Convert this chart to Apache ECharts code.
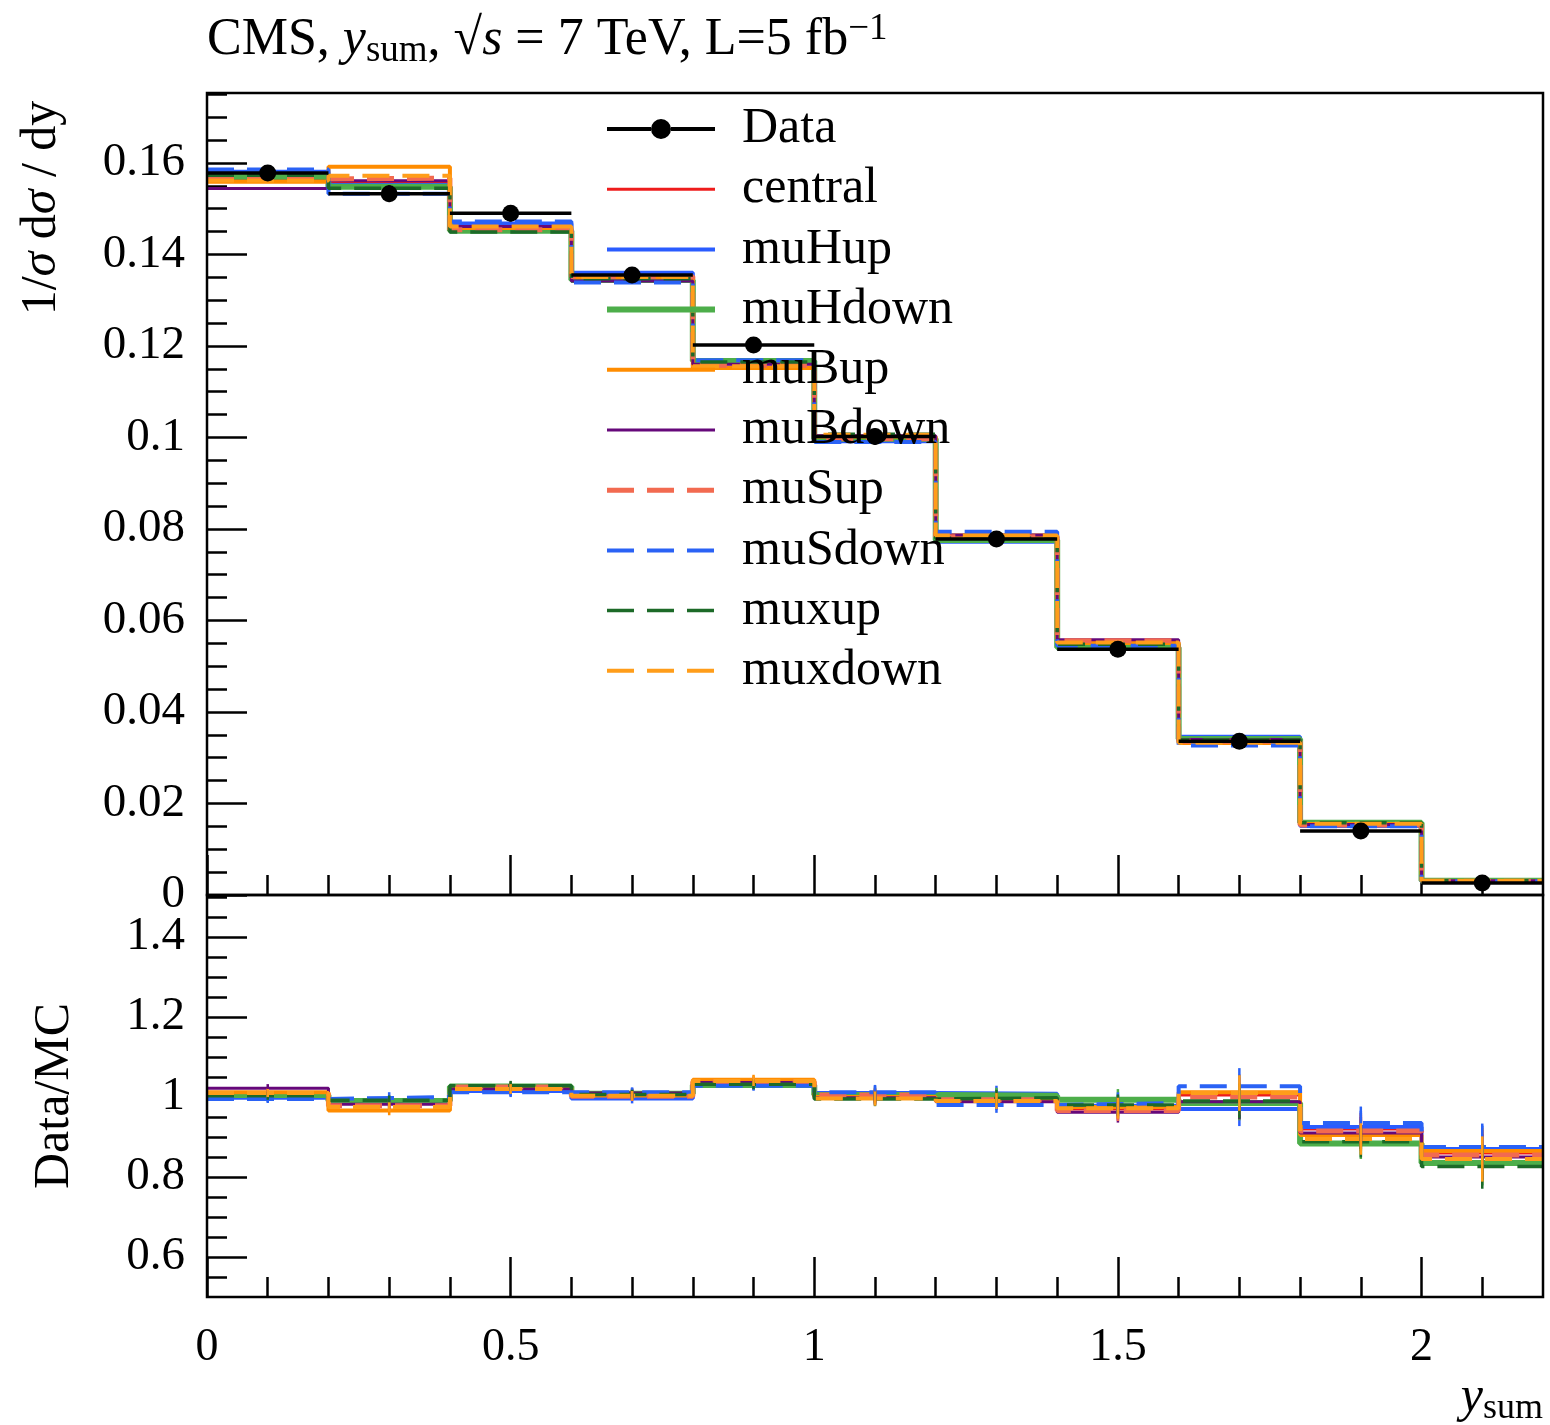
<!DOCTYPE html>
<html><head><meta charset="utf-8">
<script src="https://cdn.jsdelivr.net/npm/echarts@6/dist/echarts.min.js"></script>
<style>html,body{margin:0;padding:0;background:#fff}#c{width:1550px;height:1425px}</style>
</head><body><div id="c"></div>
<script>
// ---------- data ----------
const binEdges = [0, 0.2, 0.4, 0.6, 0.8, 1.0, 1.2, 1.4, 1.6, 1.8, 2.0, 2.2];
const dataValues = [0.1578, 0.1533, 0.1490, 0.1355, 0.1202, 0.1002, 0.0778, 0.0537, 0.0336, 0.0140, 0.0026];
const dataRelErr = [0.010, 0.012, 0.012, 0.012, 0.012, 0.018, 0.020, 0.027, 0.044, 0.044, 0.067];

const central = [0.1562, 0.1556, 0.1464, 0.1348, 0.1161, 0.1000, 0.0782, 0.0554, 0.0334, 0.0152, 0.0030];
const muHup   = [0.1581, 0.1552, 0.1468, 0.1360, 0.1167, 0.0992, 0.0772, 0.0549, 0.0346, 0.0151, 0.0030];
const muHdown = [0.1570, 0.1548, 0.1452, 0.1344, 0.1167, 0.0997, 0.0776, 0.0541, 0.0341, 0.0158, 0.0031];
const muBup   = [0.1559, 0.1592, 0.1458, 0.1350, 0.1152, 0.1002, 0.0786, 0.0551, 0.0332, 0.0155, 0.0030];
const muBdown = [0.1544, 0.1561, 0.1461, 0.1342, 0.1160, 0.1004, 0.0787, 0.0558, 0.0340, 0.0154, 0.0031];
const muSup   = [0.1565, 0.1567, 0.1454, 0.1352, 0.1158, 0.0997, 0.0783, 0.0556, 0.0336, 0.0153, 0.0030];
const muSdown = [0.1586, 0.1533, 0.1472, 0.1339, 0.1169, 0.0990, 0.0794, 0.0545, 0.0327, 0.0150, 0.0030];
const muxup   = [0.1573, 0.1545, 0.1449, 0.1347, 0.1165, 0.1007, 0.0780, 0.0548, 0.0339, 0.0158, 0.0031];
const muxdown = [0.1562, 0.1572, 0.1461, 0.1351, 0.1156, 0.1006, 0.0786, 0.0552, 0.0333, 0.0156, 0.0031];

const ratioCentral = [1.010, 0.985, 1.018, 1.005, 1.035, 1.002, 0.995, 0.970, 1.005, 0.920, 0.860];
const ratioMuHup   = [0.998, 0.988, 1.015, 0.996, 1.030, 1.010, 1.008, 0.978, 0.970, 0.925, 0.870];
const ratioMuHdown = [1.005, 0.990, 1.026, 1.008, 1.030, 1.005, 1.003, 0.993, 0.985, 0.884, 0.835];
const ratioMuBup   = [1.012, 0.966, 1.022, 1.004, 1.043, 1.000, 0.990, 0.975, 1.012, 0.905, 0.865];
const ratioMuBdown = [1.022, 0.982, 1.020, 1.010, 1.036, 0.998, 0.988, 0.962, 0.988, 0.910, 0.850];
const ratioMuSup   = [1.008, 0.978, 1.025, 1.002, 1.038, 1.005, 0.993, 0.966, 1.000, 0.915, 0.855];
const ratioMuSdown = [0.995, 1.000, 1.012, 1.012, 1.028, 1.012, 0.980, 0.985, 1.027, 0.935, 0.875];
const ratioMuxup   = [1.003, 0.992, 1.028, 1.006, 1.032, 0.995, 0.998, 0.980, 0.990, 0.888, 0.826];
const ratioMuxdown = [1.010, 0.975, 1.020, 1.003, 1.040, 0.996, 0.990, 0.972, 1.010, 0.895, 0.845];

const mcNames = ['central', 'muHup', 'muHdown', 'muBup', 'muBdown', 'muSup', 'muSdown', 'muxup', 'muxdown'];
const mcValues = [central, muHup, muHdown, muBup, muBdown, muSup, muSdown, muxup, muxdown];
const mcRatios = [ratioCentral, ratioMuHup, ratioMuHdown, ratioMuBup, ratioMuBdown, ratioMuSup, ratioMuSdown, ratioMuxup, ratioMuxdown];

const xMajorTicks = [0, 0.5, 1, 1.5, 2];
const xTickLabels = ['0', '0.5', '1', '1.5', '2'];
const yTopMajorTicks = [0, 0.02, 0.04, 0.06, 0.08, 0.10, 0.12, 0.14, 0.16];
const yTopTickLabels = ['0', '0.02', '0.04', '0.06', '0.08', '0.1', '0.12', '0.14', '0.16'];
const yBotMajorTicks = [0.6, 0.8, 1.0, 1.2, 1.4];
const yBotTickLabels = ['0.6', '0.8', '1', '1.2', '1.4'];

// ---------- styles ----------
const mcColors = ['#ee1c1c', '#2a5cff', '#4dae4a', '#ff8c00', '#66087a', '#f26a50', '#2a62f5', '#1c6a28', '#ff9d1a'];
const mcWidths = [3, 4, 6, 4, 3, 5, 4, 3.5, 4];
const mcDashed = [false, false, false, false, false, true, true, true, true];
const DASH = [27, 13];
const FONT = 'Liberation Serif';

// minor tick positions (axis decoration)
const xMinorTicks = [];
for (let i = 1; i < 22; i++) { if (i % 5 !== 0) xMinorTicks.push(i / 10); }
const yTopMinorTicks = [];
for (let i = 1; i <= 35; i++) { if (i % 4 !== 0) yTopMinorTicks.push(i * 5 / 1000); }
const yBotMinorTicks = [];
for (let i = 11; i <= 30; i++) { if (i % 4 !== 0) yBotMinorTicks.push(i * 5 / 100); }

function hist(vals) {
  const pts = vals.map((v, i) => [binEdges[i], v]);
  pts.push([binEdges[binEdges.length - 1], vals[vals.length - 1]]);
  return pts;
}
function labelFrom(ticks, labels) {
  return v => { for (let i = 0; i < ticks.length; i++) if (Math.abs(ticks[i] - v) < 1e-9) return labels[i]; return ''; };
}

const tickLine = { color: '#000', width: 2.5 };
function xAx(grid, major, withLabels) {
  return {
    gridIndex: grid, type: 'value', min: 0, max: 2.2, position: 'bottom',
    axisLine: { show: false }, splitLine: { show: false },
    axisTick: { show: true, inside: true, length: major ? 40 : 20, customValues: major ? xMajorTicks : xMinorTicks, lineStyle: tickLine },
    axisLabel: withLabels ? { show: true, customValues: xMajorTicks, formatter: labelFrom(xMajorTicks, xTickLabels),
      margin: 28, fontSize: 46, fontFamily: FONT, color: '#000' } : { show: false }
  };
}
function yAx(grid, min, max, majorTicks, minorTicks, labels, major) {
  return {
    gridIndex: grid, type: 'value', min: min, max: max, position: 'left',
    axisLine: { show: false }, splitLine: { show: false },
    axisTick: { show: true, inside: true, length: major ? 40 : 20, customValues: major ? majorTicks : minorTicks, lineStyle: tickLine },
    axisLabel: major ? { show: true, customValues: majorTicks, formatter: labelFrom(majorTicks, labels),
      margin: 22, fontSize: 47, fontFamily: FONT, color: '#000' } : { show: false }
  };
}

const series = [];
mcNames.forEach((name, k) => {
  const ls = { color: mcColors[k], width: mcWidths[k], type: mcDashed[k] ? DASH : 'solid' };
  series.push({
    type: 'line', name: name, xAxisIndex: 0, yAxisIndex: 0, step: 'end', symbol: 'circle', showSymbol: false,
    data: hist(mcValues[k]), lineStyle: ls, itemStyle: { color: mcColors[k] }, z: 2 + k * 0.01, silent: true
  });
  series.push({
    type: 'line', name: name, xAxisIndex: 2, yAxisIndex: 2, step: 'end', symbol: 'circle', showSymbol: false,
    data: hist(mcRatios[k]), lineStyle: ls, itemStyle: { color: mcColors[k] }, z: 2 + k * 0.01, silent: true
  });
});

// ratio error bars
const ratioErrRows = [];
mcRatios.forEach((r, k) => r.forEach((v, i) => ratioErrRows.push([(binEdges[i] + binEdges[i + 1]) / 2, v, v * dataRelErr[i], k])));
series.push({
  type: 'custom', name: 'ratioErr', xAxisIndex: 2, yAxisIndex: 2, silent: true, z: 3,
  data: ratioErrRows, encode: { x: 0, y: 1 },
  renderItem: (params, api) => {
    const x = api.value(0), y = api.value(1), e = api.value(2), k = api.value(3);
    const a = api.coord([x, y + e]), b = api.coord([x, y - e]);
    return { type: 'line', shape: { x1: a[0], y1: a[1], x2: b[0], y2: b[1] }, style: { stroke: mcColors[k], lineWidth: 2.5 } };
  }
});

// data points with bin-width bars
series.push({
  type: 'custom', name: 'Data', xAxisIndex: 0, yAxisIndex: 0, silent: true, z: 5,
  itemStyle: { color: '#000' },
  data: dataValues.map((v, i) => [binEdges[i], binEdges[i + 1], v, v * dataRelErr[i]]),
  encode: { x: [0, 1], y: 2 },
  renderItem: (params, api) => {
    const lo = api.value(0), hi = api.value(1), y = api.value(2), e = api.value(3);
    const xc = (lo + hi) / 2;
    const p1 = api.coord([lo, y]), p2 = api.coord([hi, y]), c = api.coord([xc, y]);
    const t = api.coord([xc, y + e]), b = api.coord([xc, y - e]);
    return { type: 'group', children: [
      { type: 'line', shape: { x1: p1[0], y1: p1[1], x2: p2[0], y2: p2[1] }, style: { stroke: '#000', lineWidth: 3.5 } },
      { type: 'line', shape: { x1: t[0], y1: t[1], x2: b[0], y2: b[1] }, style: { stroke: '#000', lineWidth: 3 } },
      { type: 'circle', shape: { cx: c[0], cy: c[1], r: 8.5 }, style: { fill: '#000' } }
    ] };
  }
});

const dataIcon = 'path://M0,8L44,8L44,12L0,12Z M64,8L108,8L108,12L64,12Z M44,10A10,10 0 1,1 64,10A10,10 0 1,1 44,10Z';
const legendData = [{ name: 'Data', icon: dataIcon, itemStyle: { color: '#000', opacity: 1 } }].concat(
  mcNames.map((n, k) => ({ name: n, itemStyle: { opacity: 0 },
    lineStyle: { color: mcColors[k], width: mcWidths[k], type: mcDashed[k] ? DASH : 'solid', opacity: 1 } })));

const rich = {
  a: { fontFamily: FONT, fontSize: 52, color: '#000' },
  i: { fontFamily: FONT, fontSize: 52, fontStyle: 'italic', color: '#000' },
  s: { fontFamily: FONT, fontSize: 37, color: '#000', padding: [22, 0, 0, 0] },
  p: { fontFamily: FONT, fontSize: 37, color: '#000', padding: [0, 0, 22, 0] }
};
const rich2 = {
  a: { fontFamily: FONT, fontSize: 50, color: '#000' },
  i: { fontFamily: FONT, fontSize: 50, fontStyle: 'italic', color: '#000' },
  s: { fontFamily: FONT, fontSize: 36, color: '#000', padding: [22, 0, 0, 0] }
};

const option = {
  animation: false,
  backgroundColor: '#fff',
  grid: [
    { left: 207, top: 93, width: 1336, height: 802, show: true, borderColor: '#000', borderWidth: 2.5, backgroundColor: 'transparent', z: 10 },
    { left: 207, top: 895, width: 1336, height: 402, show: true, borderColor: '#000', borderWidth: 2.5, backgroundColor: 'transparent', z: 10 }
  ],
  xAxis: [xAx(0, true, false), xAx(0, false, false), xAx(1, true, true), xAx(1, false, false)],
  yAxis: [
    yAx(0, 0, 0.1753, yTopMajorTicks, yTopMinorTicks, yTopTickLabels, true),
    yAx(0, 0, 0.1753, yTopMajorTicks, yTopMinorTicks, yTopTickLabels, false),
    yAx(1, 0.5, 1.505, yBotMajorTicks, yBotMinorTicks, yBotTickLabels, true),
    yAx(1, 0.5, 1.505, yBotMajorTicks, yBotMinorTicks, yBotTickLabels, false)
  ],
  legend: {
    left: 604, top: 104, padding: 0, orient: 'vertical', itemWidth: 108, itemHeight: 20, itemGap: 10.2,
    selectedMode: false, data: legendData,
    textStyle: { fontFamily: FONT, fontSize: 50, lineHeight: 50, color: '#000', padding: [0, 0, 0, 22] }
  },
  graphic: [
    { type: 'text', x: 207, y: 40, silent: true, style: { text: '{a|CMS, }{i|y}{s|sum}{a|, √}{i|s}{a| = 7 TeV, L=5 fb}{p|−1}', rich: rich, verticalAlign: 'middle', align: 'left' } },
    { type: 'text', x: 42, y: 208, rotation: Math.PI / 2, silent: true, style: { text: '{a|1/}{i|σ}{a| d}{i|σ}{a| / dy}', rich: rich2, align: 'center', verticalAlign: 'middle' } },
    { type: 'text', x: 55, y: 1096, rotation: Math.PI / 2, silent: true, style: { text: '{a|Data/MC}', rich: rich2, align: 'center', verticalAlign: 'middle' } },
    { type: 'text', x: 1543, y: 1398, silent: true, style: { text: '{i|y}{s|sum}', rich: rich2, align: 'right', verticalAlign: 'middle' } }
  ],
  series: series
};

const chart = echarts.init(document.getElementById('c'), null, { renderer: 'canvas' });
chart.setOption(option);
</script>
</body></html>
